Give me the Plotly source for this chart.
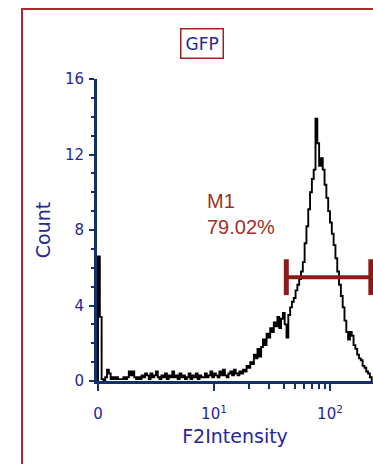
import numpy as np
import plotly.graph_objects as go

# ---- data ----
channels_per_decade = 64
counts = [
    6.6, 3.4, 0.1, 0.0, 0.2, 0.6, 0.4, 0.1, 0.2, 0.1,
    0.2, 0.1, 0.1, 0.1, 0.2, 0.1, 0.2, 0.5, 0.3, 0.5,
    0.2, 0.1, 0.2, 0.1, 0.3, 0.2, 0.4, 0.3, 0.1, 0.4,
    0.2, 0.3, 0.5, 0.2, 0.1, 0.3, 0.2, 0.4, 0.1, 0.3,
    0.2, 0.5, 0.2, 0.3, 0.1, 0.4, 0.2, 0.3, 0.1, 0.2,
    0.4, 0.1, 0.3, 0.2, 0.4, 0.1, 0.3, 0.2, 0.2, 0.4,
    0.2, 0.3, 0.5, 0.2, 0.4, 0.3, 0.2, 0.5, 0.3, 0.6,
    0.3, 0.2, 0.4, 0.5, 0.3, 0.6, 0.4, 0.3, 0.5, 0.4,
    0.6, 0.5, 0.8, 0.7, 1.0, 0.9, 1.4, 1.2, 1.7, 1.3,
    1.8, 2.2, 1.9, 2.5, 2.3, 2.8, 2.6, 3.1, 2.9, 3.4,
    2.8, 3.3, 3.6, 3.0, 2.3, 3.5, 3.9, 4.2, 4.4, 4.8,
    5.1, 5.4, 5.8, 6.3, 7.3, 8.2, 9.1, 10.0, 10.7, 11.2,
    13.9, 12.6, 11.4, 11.8, 11.2, 10.4, 9.7, 9.0, 8.4, 7.8,
    7.2, 6.5, 5.8, 5.1, 4.5, 3.9, 3.2, 2.6, 2.2, 2.6,
    2.4, 1.9, 1.7, 1.4, 1.2, 1.1, 0.8, 0.7, 0.5, 0.4,
    0.2,
]
x_tick_vals = [1, 10, 100]
x_tick_text = ["0", "10<sup>1</sup>", "10<sup>2</sup>"]
x_minor_vals = [20, 30, 40, 50, 60, 70, 80, 90]
y_tick_vals = [0, 4, 8, 12, 16]
marker_name = "M1"
marker_pct = "79.02%"
marker_start = 42
marker_end = 225
marker_level = 5.5
marker_cap = 0.95
title_text = "GFP"
x_title = "F2Intensity"
y_title = "Count"

# ---- build ----
n = len(counts)
edges = 10 ** (np.arange(n + 1) / channels_per_decade)
hx = [edges[0]] + list(edges)
hy = [0] + counts + [0]

navy = "#10306e"
label_blue = "#26269a"
dark_red = "#8b1a1a"

fig = go.Figure()
fig.add_trace(go.Scatter(
    x=hx, y=hy, mode="lines", line=dict(color="black", width=1.9, shape="hv"),
    hoverinfo="skip", showlegend=False, cliponaxis=False,
))
fig.add_trace(go.Scatter(
    x=[marker_start, marker_end],
    y=[marker_level, marker_level],
    mode="lines", line=dict(color=dark_red, width=4),
    showlegend=False, cliponaxis=False,
))
fig.add_trace(go.Scatter(
    x=[marker_start, marker_start, None, marker_end, marker_end],
    y=[marker_level - marker_cap, marker_level + marker_cap, None,
       marker_level - marker_cap, marker_level + marker_cap],
    mode="lines", line=dict(color=dark_red, width=5),
    showlegend=False, cliponaxis=False,
))

x0 = -1 / 116
x1 = 275 / 116

PW = 276   # plot width in px
PH = 302   # plot height in px
L, T = 97, 79

def px(xp):
    return (xp - 97) / PW

def py(yp):
    return (381 - yp) / PH

fig.update_layout(
    width=373, height=464,
    margin=dict(l=L, r=0, t=T, b=464 - T - PH),
    paper_bgcolor="white", plot_bgcolor="white",
    font=dict(family="DejaVu Sans", color=label_blue),
    xaxis=dict(
        type="log", range=[x0, x1],
        tickvals=x_tick_vals, ticktext=x_tick_text,
        ticks="outside", ticklen=7, tickwidth=2, tickcolor=navy,
        showline=True, linecolor=navy, linewidth=3,
        showgrid=False, zeroline=False,
        tickfont=dict(size=15, color=label_blue),
        ticklabelstandoff=10,
        minor=dict(tickvals=x_minor_vals, ticks="outside", ticklen=5,
                   tickwidth=2, tickcolor=navy, showgrid=False),
        title=dict(text=x_title, font=dict(size=19, color=label_blue), standoff=8),
    ),
    yaxis=dict(
        range=[0, 16], tickvals=y_tick_vals,
        ticks="outside", ticklen=5, tickwidth=2, tickcolor=navy,
        showline=True, linecolor=navy, linewidth=3,
        showgrid=False, zeroline=False,
        tickfont=dict(size=15, color=label_blue),
        ticklabelstandoff=2,
        minor=dict(dtick=1, ticks="outside", ticklen=3, tickwidth=2,
                   tickcolor=navy, showgrid=False),
        title=dict(text=y_title, font=dict(size=19, color=label_blue), standoff=10),
    ),
    shapes=[dict(
        type="rect", xref="paper", yref="paper",
        x0=px(22), x1=px(380), y0=py(470), y1=py(9),
        line=dict(color="#b0282a", width=2), fillcolor="rgba(0,0,0,0)",
        layer="below",
    )],
    annotations=[
        dict(
            text=title_text, xref="paper", yref="paper",
            x=px(202), y=py(43),
            xanchor="center", yanchor="middle", showarrow=False,
            font=dict(size=17, color="#1e2a9a", family="DejaVu Sans"),
            bordercolor="#a02020", borderwidth=1.5, borderpad=4,
            bgcolor="white",
        ),
        dict(
            text=marker_name + "<br>" + marker_pct, xref="paper", yref="paper",
            x=px(205), y=py(188),
            xanchor="left", yanchor="top", align="left", showarrow=False,
            font=dict(size=20, color="#a0302a", family="Liberation Sans"),
        ),
    ],
)

fig.write_html(
    "out.html",
    config={"displayModeBar": False},
    post_script="document.body.style.margin='0';document.body.style.overflow='hidden';",
)
